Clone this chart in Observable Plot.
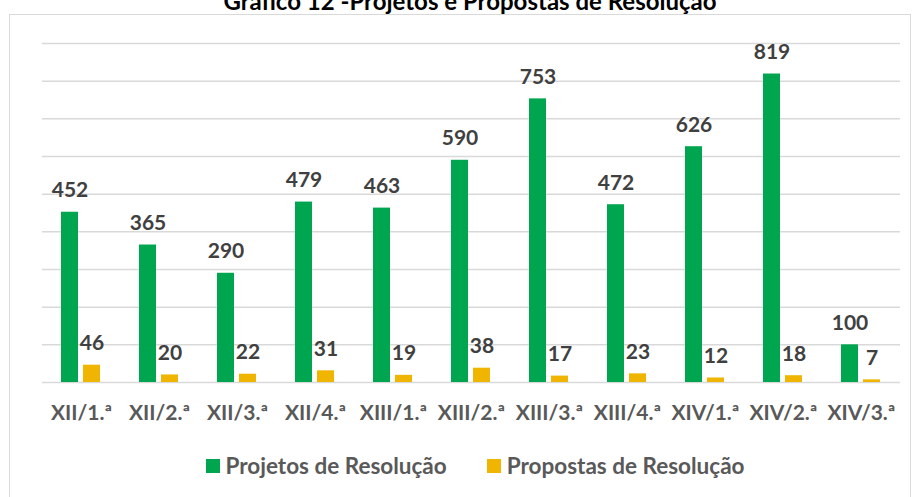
<!DOCTYPE html>
<html>
<head>
<meta charset="utf-8">
<script src="https://cdn.jsdelivr.net/npm/d3@7"></script>
<script src="https://cdn.jsdelivr.net/npm/@observablehq/plot@0.6"></script>
<style>
  html, body { margin: 0; padding: 0; background: #fff; overflow: hidden; }
  body { width: 915px; height: 497px; position: relative; font-family: Lato, "Open Sans", sans-serif; }
  #frame { position: absolute; left: 9px; top: 14px; width: 902px; height: 500px; border: 1.5px solid #d9d9d9; box-sizing: border-box; }
  #title { position: absolute; left: 0; width: 940px; top: -14px; text-align: center; font-weight: bold; font-size: 24px; color: #000; }
  #chart { position: absolute; left: 0; top: 0; }
  #legend { position: absolute; top: 452px; left: 0; width: 950px; display: flex; justify-content: center; font-weight: bold; font-size: 22.5px; color: #595959; }
  .item { display: flex; align-items: center; margin: 0 20px 0 20px; }
  .sw { width: 14px; height: 14px; margin-right: 6px; }
</style>
</head>
<body>
<div id="frame"></div>
<div id="title">Gráfico 12 -Projetos e Propostas de Resolução</div>
<div id="chart"></div>
<div id="legend"></div>
<script>
const sessions = ["XII/1.ª","XII/2.ª","XII/3.ª","XII/4.ª","XIII/1.ª","XIII/2.ª","XIII/3.ª","XIII/4.ª","XIV/1.ª","XIV/2.ª","XIV/3.ª"];
const projetos = [452,365,290,479,463,590,753,472,626,819,100];
const propostas = [46,20,22,31,19,38,17,23,12,18,7];
const series = ["Projetos de Resolução","Propostas de Resolução"];
const colors = ["#00A54F","#EFB500"];
const gridTicks = [0,100,200,300,400,500,600,700,800,900];

const data = [];
sessions.forEach((s, i) => {
  data.push({sessao: s, serie: series[0], valor: projetos[i]});
  data.push({sessao: s, serie: series[1], valor: propostas[i]});
});

const chart = Plot.plot({
  width: 915,
  height: 440,
  marginLeft: 39,
  marginRight: 13,
  marginTop: 43,
  marginBottom: 58,
  style: {fontFamily: "Lato, 'Open Sans', sans-serif", background: "transparent"},
  fx: {domain: sessions, padding: 0, label: null},
  x: {domain: series, axis: null, paddingInner: 0.22, paddingOuter: 0.855},
  y: {domain: [0, 900], axis: null},
  color: {domain: series, range: colors},
  marks: [
    Plot.ruleY(gridTicks, {stroke: "#d9d9d9", strokeWidth: 1.5}),
    Plot.barY(data, {fx: "sessao", x: "serie", y: "valor", fill: "serie"}),
    Plot.text(data, {fx: "sessao", x: "serie", y: "valor", text: d => String(d.valor), lineAnchor: "bottom", dy: -15, fontSize: 21, fontWeight: "bold", fill: "#404040"}),
    Plot.axisFx({anchor: "bottom", tickSize: 0, tickPadding: 23, fontSize: 21, fontWeight: "bold", fill: "#595959", label: null})
  ]
});
document.getElementById("chart").appendChild(chart);

const legend = document.getElementById("legend");
series.forEach((s, i) => {
  const it = document.createElement("div");
  it.className = "item";
  const sw = document.createElement("div");
  sw.className = "sw";
  sw.style.background = colors[i];
  const tx = document.createElement("span");
  tx.textContent = s;
  it.appendChild(sw); it.appendChild(tx);
  legend.appendChild(it);
});
</script>
</body>
</html>
